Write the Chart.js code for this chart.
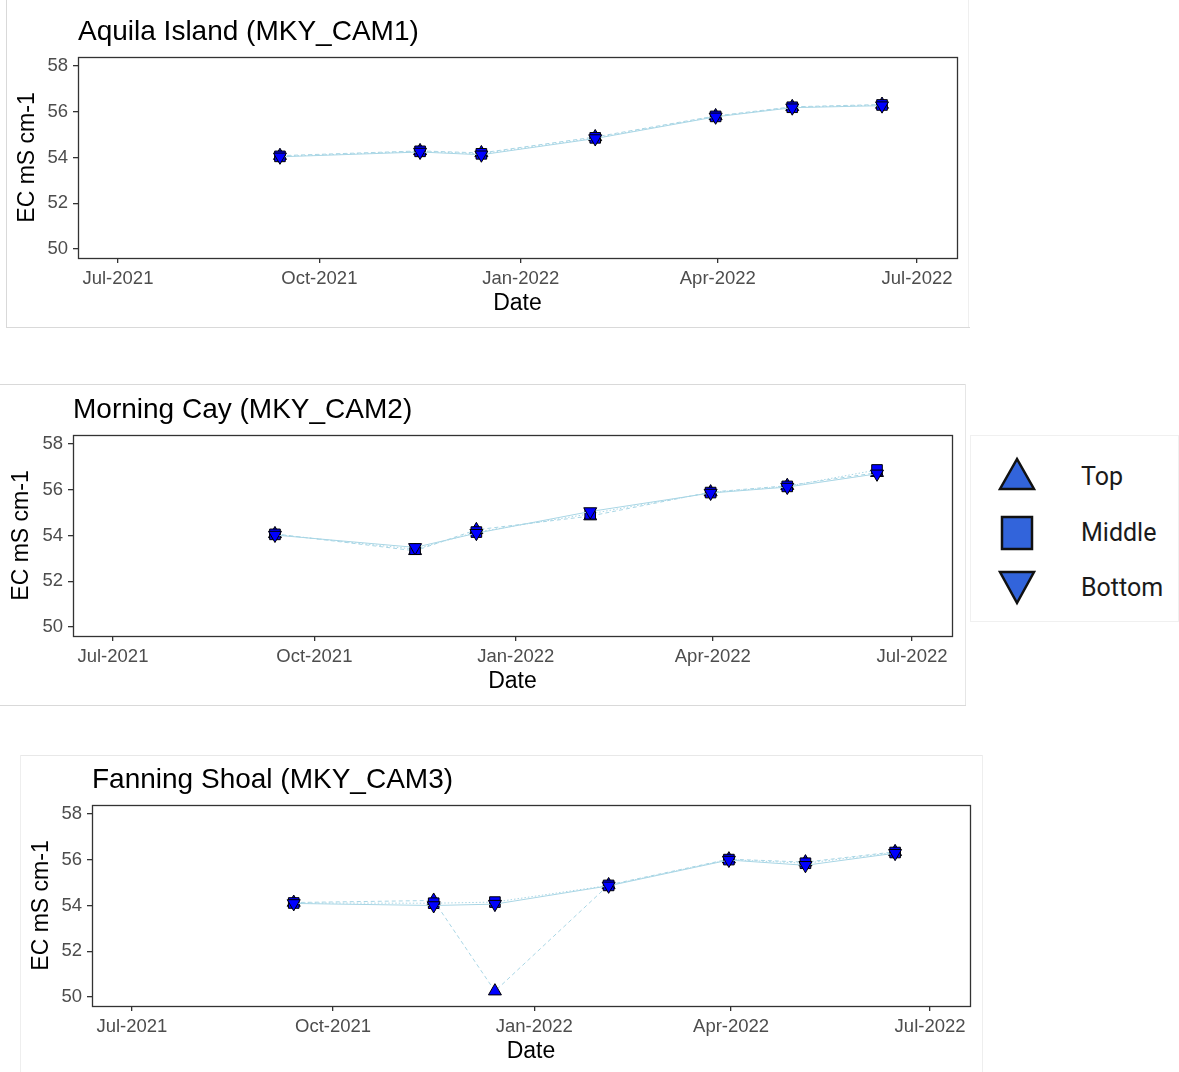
<!DOCTYPE html>
<html><head><meta charset="utf-8">
<script src="https://cdn.jsdelivr.net/npm/chart.js@4.4.1/dist/chart.umd.min.js"></script>
<style>
html,body{margin:0;padding:0;background:#fff;}
body{width:1179px;height:1072px;position:relative;overflow:hidden;font-family:"Liberation Sans",Arial,sans-serif;}
.panel{position:absolute;background:#fff;overflow:hidden;}
.panel canvas{position:absolute;left:0;top:0;}
.ln{position:absolute;background:#d9d9d9;}
#legend{position:absolute;left:970px;top:435px;width:209px;height:187px;border:1px solid #f0f0f0;box-sizing:border-box;background:#fff;}
#legend svg{position:absolute;left:0;top:0;}
.lt{position:absolute;left:110px;font-family:Roboto,"Liberation Sans",sans-serif;font-size:25px;color:#1a1a1a;line-height:30px;}
</style></head><body>
<div class="panel" id="p1" style="left:6px;top:0;width:963px;height:327px;"><canvas id="c1"></canvas></div>
<div class="panel" id="p2" style="left:0;top:384px;width:965px;height:321px;"><canvas id="c2"></canvas></div>
<div class="panel" id="p3" style="left:20px;top:755px;width:963px;height:317px;"><canvas id="c3"></canvas></div>

<div class="ln" style="left:6px;top:0;width:1px;height:327px;"></div>
<div class="ln" style="left:6px;top:327px;width:964px;height:1px;"></div>
<div class="ln" style="left:968px;top:0;width:1px;height:327px;background:#efefef;"></div>
<div class="ln" style="left:0;top:384px;width:966px;height:1px;"></div>
<div class="ln" style="left:0;top:705px;width:966px;height:1px;"></div>
<div class="ln" style="left:965px;top:384px;width:1px;height:321px;background:#e6e6e6;"></div>
<div class="ln" style="left:20px;top:755px;width:963px;height:1px;background:#e8e8e8;"></div>
<div class="ln" style="left:20px;top:755px;width:1px;height:317px;background:#eeeeee;"></div>
<div class="ln" style="left:982px;top:755px;width:1px;height:317px;background:#eeeeee;"></div>

<div id="legend">
<svg width="209" height="187">
<polygon points="46,23 29,53 63,53" fill="#3264db" stroke="#111" stroke-width="2.5" stroke-linejoin="miter"/>
<rect x="31" y="81" width="30" height="32" fill="#3264db" stroke="#111" stroke-width="2.5"/>
<polygon points="29,136 63,136 46,167" fill="#3264db" stroke="#111" stroke-width="2.5"/>
</svg>
<div class="lt" id="lg0" style="top:26px;"></div>
<div class="lt" id="lg1" style="top:82px;"></div>
<div class="lt" id="lg2" style="top:137px;"></div>
</div>

<script>
// ---- data ----
const sampleDates = ['2021-09-13','2021-11-16','2021-12-14','2022-02-04','2022-03-31','2022-05-05','2022-06-15'];
const tickDates  = ['2021-07-01','2021-10-01','2022-01-01','2022-04-01','2022-07-01'];
const tickLabels = ['Jul-2021','Oct-2021','Jan-2022','Apr-2022','Jul-2022'];
const yTicks = [50, 52, 54, 56, 58];
const depthNames = ['Top', 'Middle', 'Bottom'];
const siteTitles = ['Aquila Island (MKY_CAM1)', 'Morning Cay (MKY_CAM2)', 'Fanning Shoal (MKY_CAM3)'];

const aquilaTop    = [54.08, 54.29, 54.20, 54.90, 55.82, 56.22, 56.32];
const aquilaMiddle = [54.05, 54.27, 54.16, 54.86, 55.80, 56.20, 56.30];
const aquilaBottom = [54.03, 54.24, 54.12, 54.83, 55.78, 56.18, 56.27];

const morningTop    = [54.07, 53.33, 54.25, 54.85, 55.90, 56.18, 56.75];
const morningMiddle = [54.05, 53.40, 54.15, 54.95, 55.88, 56.15, 56.87];
const morningBottom = [54.02, 53.48, 54.10, 55.05, 55.86, 56.12, 56.70];

const fanningTop    = [54.13, 54.22, 50.25, 54.90, 56.03, 55.90, 56.35];
const fanningMiddle = [54.11, 54.10, 54.15, 54.88, 56.01, 55.85, 56.32];
const fanningBottom = [54.09, 54.00, 54.06, 54.86, 55.99, 55.76, 56.29];

// ---- helpers ----
const DAY = 86400000;
const origin = Date.UTC(2021, 6, 1);
function dayNum(s){ const p = s.split('-').map(Number); return (Date.UTC(p[0], p[1]-1, p[2]) - origin) / DAY; }
const tickDays = tickDates.map(dayNum);
const span = tickDays[tickDays.length-1] - tickDays[0];
const xMin = tickDays[0] - span*0.05, xMax = tickDays[tickDays.length-1] + span*0.05;
const yMin = yTicks[0] - (yTicks[yTicks.length-1]-yTicks[0])*0.05;
const yMax = yTicks[yTicks.length-1] + (yTicks[yTicks.length-1]-yTicks[0])*0.05;

depthNames.forEach((n,i)=>{ document.getElementById('lg'+i).textContent = n; });

const FAM = '"Liberation Sans", Arial, sans-serif';
const lineColor = '#a9d6e5';
const styles = [
  {pointStyle:'triangle', rotation:0,   dash:[4,3],   order:3},
  {pointStyle:'rect',     rotation:0,   dash:[1.5,2], order:2},
  {pointStyle:'triangle', rotation:180, dash:[],      order:1}
];

function makePanel(id, W, H, box, title, series){
  const cv = document.getElementById(id);
  cv.width = W; cv.height = H; cv.style.width = W+'px'; cv.style.height = H+'px';
  const xAxisH = 69;
  const datasets = series.map((vals, i) => ({
    label: depthNames[i],
    data: vals.map((v, k) => ({x: dayNum(sampleDates[k]), y: v})),
    borderColor: lineColor, borderWidth: 1, borderDash: styles[i].dash,
    pointStyle: styles[i].pointStyle, rotation: styles[i].rotation,
    pointRadius: 7.5, pointHoverRadius: 7.5,
    pointBackgroundColor: '#0000ff', pointBorderColor: '#000', pointBorderWidth: 1,
    order: styles[i].order, fill: false, tension: 0
  }));
  const titlePlugin = {
    id: 'ggtitle',
    afterDraw(chart){
      const {ctx, chartArea} = chart;
      ctx.save();
      ctx.font = '28px ' + FAM; ctx.fillStyle = '#000';
      ctx.textBaseline = 'alphabetic'; ctx.textAlign = 'left';
      ctx.fillText(title, chartArea.left, chartArea.top - 17);
      ctx.strokeStyle = '#333'; ctx.lineWidth = 1.3;
      ctx.strokeRect(Math.round(chartArea.left)+0.5, Math.round(chartArea.top)+0.5,
        Math.round(chartArea.right - chartArea.left), Math.round(chartArea.bottom - chartArea.top));
      ctx.restore();
    }
  };
  new Chart(cv, {
    type: 'line',
    data: {datasets},
    options: {
      responsive: false, animation: false,
      layout: {padding: {left: 0, top: box.top, right: W - box.right, bottom: H - box.bottom - xAxisH}},
      plugins: {legend: {display: false}, tooltip: {enabled: false}, title: {display: false}},
      scales: {
        x: {
          type: 'linear', min: xMin, max: xMax,
          afterBuildTicks: s => { s.ticks = tickDays.map(v => ({value: v})); },
          afterFit: s => { s.height = xAxisH; },
          grid: {drawOnChartArea: false, drawTicks: true, tickLength: 5, tickColor: '#333', lineWidth: 1.3},
          border: {display: false},
          ticks: {autoSkip: false, maxRotation: 0, padding: 5, color: '#4d4d4d', font: {size: 18.5, family: FAM},
                  callback: (v, i) => tickLabels[i]},
          title: {display: true, text: 'Date', color: '#000', font: {size: 23, family: FAM}, padding: {top: 0, bottom: 10}}
        },
        y: {
          min: yMin, max: yMax,
          afterBuildTicks: s => { s.ticks = yTicks.map(v => ({value: v})); },
          afterFit: s => { s.width = box.left; },
          grid: {drawOnChartArea: false, drawTicks: true, tickLength: 5, tickColor: '#333', lineWidth: 1.3},
          border: {display: false},
          ticks: {padding: 5, color: '#4d4d4d', font: {size: 18.5, family: FAM}, callback: v => String(v)},
          title: {display: true, text: 'EC mS cm-1', color: '#000', font: {size: 23, family: FAM}, padding: {top: 8, bottom: 0}}
        }
      }
    },
    plugins: [titlePlugin]
  });
}

makePanel('c1', 963, 327, {left: 72, right: 951, top: 57, bottom: 258}, siteTitles[0], [aquilaTop, aquilaMiddle, aquilaBottom]);
makePanel('c2', 965, 321, {left: 73, right: 952, top: 51, bottom: 252}, siteTitles[1], [morningTop, morningMiddle, morningBottom]);
makePanel('c3', 963, 320, {left: 72, right: 950, top: 50, bottom: 251}, siteTitles[2], [fanningTop, fanningMiddle, fanningBottom]);
</script>
</body></html>
